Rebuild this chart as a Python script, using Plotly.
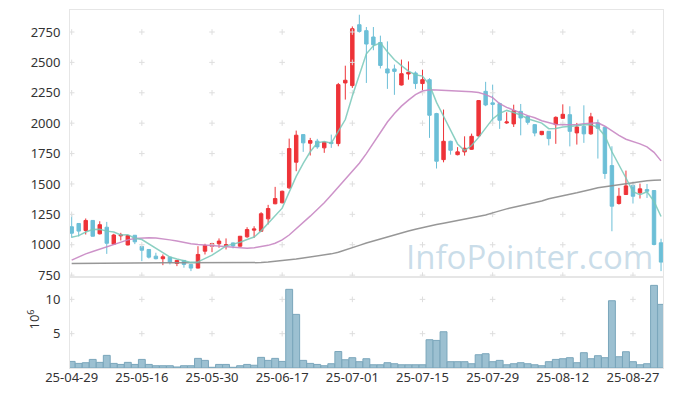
import plotly.graph_objects as go
from plotly.subplots import make_subplots

dates = ["2025-04-29","2025-04-30","2025-05-02","2025-05-07","2025-05-08","2025-05-09","2025-05-12","2025-05-13","2025-05-14","2025-05-15",
         "2025-05-16","2025-05-19","2025-05-20","2025-05-21","2025-05-22","2025-05-23","2025-05-26","2025-05-27","2025-05-28","2025-05-29",
         "2025-05-30","2025-06-02","2025-06-04","2025-06-05","2025-06-09","2025-06-10","2025-06-11","2025-06-12","2025-06-13","2025-06-16",
         "2025-06-17","2025-06-18","2025-06-19","2025-06-20","2025-06-23","2025-06-24","2025-06-25","2025-06-26","2025-06-27","2025-06-30",
         "2025-07-01","2025-07-02","2025-07-03","2025-07-04","2025-07-07","2025-07-08","2025-07-09","2025-07-10","2025-07-11","2025-07-14",
         "2025-07-15","2025-07-16","2025-07-17","2025-07-18","2025-07-21","2025-07-22","2025-07-23","2025-07-24","2025-07-25","2025-07-28",
         "2025-07-29","2025-07-30","2025-07-31","2025-08-01","2025-08-04","2025-08-05","2025-08-06","2025-08-07","2025-08-08","2025-08-11",
         "2025-08-12","2025-08-13","2025-08-14","2025-08-18","2025-08-19","2025-08-20","2025-08-21","2025-08-22","2025-08-25","2025-08-26",
         "2025-08-27","2025-08-28","2025-08-29","2025-09-01","2025-09-02"]

opens = [1148,1175,1117,1200,1090,1144,1005,1073,998,1078,
         986,961,906,885,898,846,871,838,808,947,
         988,1008,994,1015,988,1065,1120,1111,1213,1337,
         1345,1468,1679,1906,1835,1852,1797,1843,1832,2331,
         2309,2810,2761,2709,2664,2446,2446,2314,2405,2413,
         2326,2358,2079,1700,1851,1741,1764,1785,1895,2262,
         2167,2161,2002,1994,2097,2056,1988,1906,1933,1988,
         2040,2070,1920,1974,1912,2002,1966,1651,1339,1413,
         1487,1427,1454,1446,1016]
highs = [1243,1178,1216,1203,1193,1188,1090,1098,1080,1080,
         988,963,934,920,900,873,873,840,988,1008,
         1012,1052,1052,1018,1072,1144,1152,1268,1328,1476,
         1445,1873,1939,1908,1879,1871,1848,1906,2331,2473,
         2796,2892,2791,2791,2720,2673,2482,2523,2508,2426,
         2440,2370,2085,2112,1856,1803,1892,1914,2190,2340,
         2317,2170,2090,2152,2158,2060,1992,1936,1936,2056,
         2155,2139,2002,2147,2085,2030,1970,1810,1468,1610,
         1509,1503,1500,1450,1049]
lows = [1057,1068,1084,1068,1085,925,1000,1035,995,1005,
        865,887,880,832,838,824,811,783,806,920,
        939,975,961,970,985,1057,1057,1108,1167,1333,
        1340,1460,1605,1764,1734,1789,1756,1797,1810,2194,
        2290,2745,2331,2600,2450,2282,2233,2310,2358,2282,
        2262,1879,1627,1678,1741,1735,1733,1780,1890,2140,
        2002,1953,1994,1969,1900,1988,1892,1900,1817,1830,
        2035,1809,1824,1838,1905,1709,1542,1111,1330,1410,
        1339,1380,1385,995,783]
closes = [1095,1112,1200,1070,1165,1012,1080,1080,1076,1024,
          955,898,885,901,857,871,838,808,920,994,
          1010,1030,1000,990,1070,1125,1130,1255,1298,1380,
          1440,1791,1901,1838,1857,1805,1843,1832,2317,2353,
          2777,2755,2651,2645,2475,2413,2426,2407,2418,2326,
          2358,2065,1687,1851,1777,1764,1794,1892,2186,2150,
          2155,2024,2010,2103,2043,2007,1919,1933,1873,2048,
          2073,1933,1969,1912,2052,1958,1586,1317,1399,1484,
          1399,1460,1440,1002,857]

ma5 = [1062,1075,1105,1125,1128,1112,1105,1081,1083,1054,
       1043,1007,968,933,899,882,870,855,859,886,
       914,952,991,1005,1020,1043,1063,1114,1176,1238,
       1301,1433,1562,1670,1765,1838,1849,1835,1931,2030,
       2224,2407,2571,2636,2661,2588,2522,2473,2428,2398,
       2387,2315,2171,2057,1948,1829,1775,1816,1883,1957,
       2035,2081,2105,2088,2067,2037,2016,2001,1955,1956,
       1969,1972,1979,1987,1988,1965,1895,1765,1662,1549,
       1437,1412,1436,1357,1232]
ma20 = [873,900,925,945,965,985,1002,1022,1040,1052,
        1057,1058,1056,1050,1040,1030,1016,1008,1002,998,
        993,988,982,977,973,972,975,982,995,1012,
        1040,1080,1130,1180,1235,1290,1345,1410,1475,1540,
        1600,1670,1750,1840,1930,2010,2080,2140,2190,2235,
        2265,2275,2273,2271,2269,2266,2263,2259,2252,2235,
        2210,2160,2130,2105,2085,2062,2045,2020,2002,1990,
        1988,1986,1988,1995,2000,2003,1975,1935,1900,1868,
        1850,1830,1805,1760,1690]
ma120 = [845,846,847,848,849,850,850,851,851,852,
         852,852,852,852,851,851,850,850,850,849,
         849,849,849,849,850,850,851,853,857,862,
         867,874,882,890,898,906,915,925,938,955,
         975,995,1015,1032,1050,1066,1082,1098,1113,1128,
         1142,1155,1166,1177,1188,1198,1208,1218,1230,1245,
         1262,1280,1295,1308,1320,1333,1346,1360,1378,1392,
         1405,1416,1427,1438,1455,1468,1476,1484,1495,1505,
         1514,1521,1526,1530,1532]

volume_m = [0.96,0.67,0.77,1.25,0.82,1.84,0.67,0.52,0.82,0.52,
            1.25,0.52,0.33,0.33,0.33,0.15,0.33,0.33,1.40,1.11,
            0.10,0.52,0.52,0.10,0.33,0.52,0.40,1.55,1.11,1.40,
            0.96,11.46,7.81,1.11,0.67,0.52,0.33,0.62,2.40,1.20,
            1.50,0.92,1.35,0.47,0.47,0.77,0.62,0.47,0.47,0.47,
            0.47,4.12,4.02,5.28,0.92,0.92,0.92,0.62,1.93,2.08,
            0.92,1.11,0.47,0.62,0.77,0.62,0.47,0.33,0.92,1.25,
            1.35,1.50,0.77,2.23,1.35,1.79,1.50,9.80,1.64,2.37,
            0.92,0.47,0.62,12.04,9.27]

price_ticks = [750, 1000, 1250, 1500, 1750, 2000, 2250, 2500, 2750]
volume_ticks = [5, 10]
tick_every = 10

x = list(range(len(dates)))
xtick_vals = x[::tick_every]
xtick_text = [d[2:] for d in dates[::tick_every]]

fig = make_subplots(rows=2, cols=1, shared_xaxes=True, vertical_spacing=0,
                    row_heights=[0.745, 0.255])

cross = dict(symbol="cross-thin", size=4, line=dict(color="#dedede", width=1))
gx1 = [xv for yv in price_ticks for xv in xtick_vals]
gy1 = [yv for yv in price_ticks for xv in xtick_vals]
fig.add_trace(go.Scatter(x=gx1, y=gy1, mode="markers", hoverinfo="skip", marker=cross), row=1, col=1)
gx2 = [xv for yv in volume_ticks for xv in xtick_vals]
gy2 = [yv for yv in volume_ticks for xv in xtick_vals]
fig.add_trace(go.Scatter(x=gx2, y=gy2, mode="markers", hoverinfo="skip", marker=cross), row=2, col=1)

fig.add_trace(go.Candlestick(
    x=x, open=opens, high=highs, low=lows, close=closes,
    increasing=dict(fillcolor="#ee3338", line=dict(color="#ee3338", width=1)),
    decreasing=dict(fillcolor="#6cbfd7", line=dict(color="#6cbfd7", width=1)),
    whiskerwidth=0), row=1, col=1)

fig.add_trace(go.Scatter(x=x, y=ma120, mode="lines", line=dict(color="rgba(140,140,140,0.9)", width=1.5)), row=1, col=1)
fig.add_trace(go.Scatter(x=x, y=ma20, mode="lines", line=dict(color="rgba(200,135,195,0.9)", width=1.5)), row=1, col=1)
fig.add_trace(go.Scatter(x=x, y=ma5, mode="lines", line=dict(color="rgba(120,200,185,0.85)", width=1.5)), row=1, col=1)

fig.add_trace(go.Bar(x=x, y=volume_m, marker=dict(color="#9cc0d1", line=dict(color="#7aa6bb", width=1))),
              row=2, col=1)

axis_font = dict(family="Noto Sans, Open Sans, sans-serif", size=13, color="#333333")
xr = [-0.24, 84.28]
fig.update_xaxes(range=xr, autorange=False, automargin=False, showgrid=False, zeroline=False,
                 showline=True, mirror=True, linecolor="#e6e6e6", linewidth=1, rangeslider_visible=False)
fig.update_xaxes(showticklabels=False, row=1, col=1)
fig.update_xaxes(tickvals=xtick_vals, ticktext=xtick_text, ticks="", tickfont=axis_font,
                 ticklabelstandoff=-3, row=2, col=1)
fig.update_yaxes(range=[737, 2931], automargin=False, tickvals=price_ticks, showgrid=False, zeroline=False,
                 showline=True, mirror=True, linecolor="#e6e6e6", ticks="", tickfont=axis_font,
                 ticklabelstandoff=6, row=1, col=1)
fig.update_yaxes(range=[0, 13.3], automargin=False, tickvals=volume_ticks, showgrid=False, zeroline=False,
                 showline=True, mirror=True, linecolor="#e6e6e6", ticks="", tickfont=axis_font,
                 ticklabelstandoff=6, row=2, col=1)

fig.add_annotation(text="10<sup>6</sup>", xref="paper", yref="paper", x=-0.062, y=0.136,
                   textangle=-90, showarrow=False, font=axis_font, xanchor="center", yanchor="middle")
fig.add_annotation(text="InfoPointer.com", xref="paper", yref="paper", x=0.9865, y=0.312,
                   xanchor="right", yanchor="middle", showarrow=False,
                   font=dict(family="Open Sans, sans-serif", size=33, color="rgba(150,188,212,0.5)"))

# the page body adds an 8px offset, so the figure is sized to fit the window
fig.update_layout(width=665, height=388, margin=dict(l=62, r=10, t=2, b=28, autoexpand=False),
                  plot_bgcolor="white", paper_bgcolor="white", showlegend=False,
                  bargap=0.02)

fig.write_html("out.html")
